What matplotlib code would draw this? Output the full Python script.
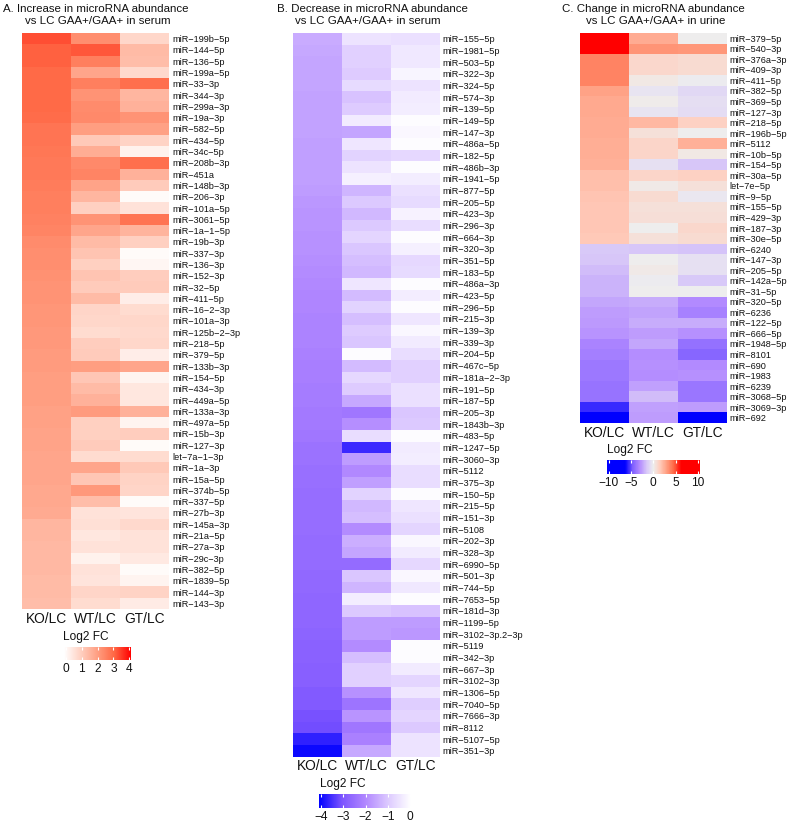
import numpy as np
import matplotlib
matplotlib.use("Agg")
import matplotlib.pyplot as plt
from matplotlib.colors import LinearSegmentedColormap, Normalize

plt.rcParams['font.family'] = ['Liberation Sans', 'DejaVu Sans']

W, H = 790, 823
cols = ["KO/LC", "WT/LC", "GT/LC"]

# Panel A
labels_a = ["miR−199b−5p", "miR−144−5p", "miR−136−5p", "miR−199a−5p", "miR−33−3p", "miR−344−3p",
            "miR−299a−3p", "miR−19a−3p", "miR−582−5p", "miR−434−5p", "miR−34c−5p", "miR−208b−3p",
            "miR−451a", "miR−148b−3p", "miR−206−3p", "miR−101a−5p", "miR−3061−5p", "miR−1a−1−5p",
            "miR−19b−3p", "miR−337−3p", "miR−136−3p", "miR−152−3p", "miR−32−5p", "miR−411−5p",
            "miR−16−2−3p", "miR−101a−3p", "miR−125b−2−3p", "miR−218−5p", "miR−379−5p", "miR−133b−3p",
            "miR−154−5p", "miR−434−3p", "miR−449a−5p", "miR−133a−3p", "miR−497a−5p", "miR−15b−3p",
            "miR−127−3p", "let−7a−1−3p", "miR−1a−3p", "miR−15a−5p", "miR−374b−5p", "miR−337−5p",
            "miR−27b−3p", "miR−145a−3p", "miR−21a−5p", "miR−27a−3p", "miR−29c−3p", "miR−382−5p",
            "miR−1839−5p", "miR−144−3p", "miR−143−3p"]
ko_a = [3.3, 3.1, 3.1, 3.0, 3.0, 3.0, 3.0, 2.95, 2.8, 2.8, 2.75, 2.7, 2.7, 2.65, 2.6, 2.6, 2.55, 2.5,
        2.35, 2.3, 2.3, 2.25, 2.2, 2.2, 2.15, 2.15, 2.1, 2.1, 2.05, 2.05, 2.0, 2.0, 2.0, 1.95, 1.95,
        1.9, 1.9, 1.85, 1.85, 1.85, 1.8, 1.8, 1.75, 1.5, 1.5, 1.45, 1.45, 1.45, 1.4, 1.4, 1.35]
wt_a = [2.3, 3.2, 2.6, 1.85, 2.6, 2.2, 2.35, 2.4, 2.0, 1.1, 1.7, 2.4, 2.5, 1.9, 1.5, 0.95, 2.2, 1.85,
        1.4, 1.2, 0.95, 1.2, 1.05, 1.4, 0.85, 0.8, 0.7, 1.0, 1.05, 2.0, 1.15, 1.4, 1.6, 2.05, 0.95,
        0.95, 1.05, 0.7, 1.85, 1.15, 2.1, 1.35, 0.55, 0.6, 0.45, 0.55, 0.2, 0.55, 0.5, 0.85, 0.7]
gt_a = [0.8, 1.4, 1.35, 0.75, 2.9, 1.5, 1.6, 2.2, 1.95, 0.9, 0.2, 2.9, 1.6, 1.05, 0, 0.55, 2.8, 1.55,
        0.95, 0, 0.1, 1.0, 1.05, 0.3, 0.7, 0.8, 0.75, 0.8, 0.3, 1.85, 0.15, 0.45, 0.45, 1.6, 0.15,
        1.0, 0, 0.7, 1.1, 0.9, 0.85, 0, 0.5, 0.75, 0.55, 0.55, 0.4, 0, 0.15, 0.9, 0.35]

# Panel B
labels_b = ["miR−155−5p", "miR−1981−5p", "miR−503−5p", "miR−322−3p", "miR−324−5p", "miR−574−3p",
            "miR−139−5p", "miR−149−5p", "miR−147−3p", "miR−486a−5p", "miR−182−5p", "miR−486b−3p",
            "miR−1941−5p", "miR−877−5p", "miR−205−5p", "miR−423−3p", "miR−296−3p", "miR−664−3p",
            "miR−320−3p", "miR−351−5p", "miR−183−5p", "miR−486a−3p", "miR−423−5p", "miR−296−5p",
            "miR−215−3p", "miR−139−3p", "miR−339−3p", "miR−204−5p", "miR−467c−5p", "miR−181a−2−3p",
            "miR−191−5p", "miR−187−5p", "miR−205−3p", "miR−1843b−3p", "miR−483−5p", "miR−1247−5p",
            "miR−3060−3p", "miR−5112", "miR−375−3p", "miR−150−5p", "miR−215−5p", "miR−151−3p",
            "miR−5108", "miR−202−3p", "miR−328−3p", "miR−6990−5p", "miR−501−3p", "miR−744−5p",
            "miR−7653−5p", "miR−181d−3p", "miR−1199−5p", "miR−3102−3p.2−3p", "miR−5119", "miR−342−3p",
            "miR−667−3p", "miR−3102−3p", "miR−1306−5p", "miR−7040−5p", "miR−7666−3p", "miR−8112",
            "miR−5107−5p", "miR−351−3p"]
ko_b = [-1.45, -1.5, -1.55, -1.55, -1.55, -1.6, -1.6, -1.6, -1.6, -1.65, -1.65, -1.65, -1.65, -1.7,
        -1.75, -1.8, -1.8, -1.85, -1.85, -1.9, -1.95, -2.0, -2.05, -2.05, -2.1, -2.1, -2.1, -2.15,
        -2.2, -2.2, -2.25, -2.25, -2.3, -2.3, -2.35, -2.45, -2.45, -2.5, -2.5, -2.55, -2.55, -2.55,
        -2.55, -2.6, -2.6, -2.6, -2.65, -2.65, -2.7, -2.7, -2.7, -2.75, -2.8, -2.8, -2.85, -2.85,
        -2.95, -2.95, -3.1, -3.15, -3.7, -4.0]
wt_b = [-0.5, -0.85, -0.85, -0.95, -0.65, -1.1, -0.95, -0.35, -1.55, -0.45, -0.8, -0.5, -0.25, -1.3,
        -1.0, -1.25, -1.0, -0.75, -1.05, -1.15, -1.25, -0.45, -1.2, -0.8, -1.15, -0.95, -1.05, 0,
        -1.2, -0.7, -0.95, -1.5, -2.35, -1.9, -0.6, -3.6, -1.7, -2.0, -1.65, -0.8, -1.25, -1.15,
        -1.95, -1.4, -1.55, -2.6, -1.05, -1.3, -0.3, -1.0, -1.7, -1.7, -1.95, -1.15, -0.85, -0.85,
        -1.85, -2.4, -1.8, -2.35, -2.15, -1.5]
gt_b = [-0.55, -0.4, -0.4, -0.15, -0.5, -0.35, -0.3, 0, -0.1, 0, -0.7, 0, -0.3, -0.55, -0.65, -0.2,
        -0.6, 0, -0.25, -0.7, -0.65, 0, -0.3, 0, -0.45, -0.1, -0.35, -0.6, -0.85, -0.85, -0.55, -0.55,
        -1.05, -1.0, 0, -0.35, -0.3, -0.6, -0.6, 0, -0.45, -0.55, -0.75, -0.1, -0.35, -0.7, -0.1, -0.4,
        0, -1.1, -1.7, -1.75, 0, 0, -0.35, -0.75, -0.45, -0.9, -0.75, -1.0, -0.5, -0.5]

# Panel C
labels_c = ["miR−379−5p", "miR−540−3p", "miR−376a−3p", "miR−409−3p", "miR−411−5p", "miR−382−5p",
            "miR−369−5p", "miR−127−3p", "miR−218−5p", "miR−196b−5p", "miR−5112", "miR−10b−5p",
            "miR−154−5p", "miR−30a−5p", "let−7e−5p", "miR−9−5p", "miR−155−5p", "miR−429−3p",
            "miR−187−3p", "miR−30e−5p", "miR−6240", "miR−147−3p", "miR−205−5p", "miR−142a−5p",
            "miR−31−5p", "miR−320−5p", "miR−6236", "miR−122−5p", "miR−666−5p", "miR−1948−5p",
            "miR−8101", "miR−690", "miR−1983", "miR−6239", "miR−3068−5p", "miR−3069−3p", "miR−692"]
ko_c = [6.5, 6.5, 3.8, 3.8, 3.8, 2.9, 2.7, 2.7, 2.6, 2.6, 2.5, 2.5, 2.4, 1.9, 1.9, 1.8, 1.7, 1.7, 1.7,
        1.6, -1.4, -1.5, -1.8, -2.0, -2.0, -2.3, -2.6, -2.7, -2.8, -3.3, -3.5, -3.7, -3.7, -3.9, -3.9,
        -5.5, -6.5]
wt_c = [2.6, 3.3, 1.0, 1.0, 0.3, -0.4, 0.15, -0.35, 2.2, 0.6, 1.1, 1.1, -0.5, 1.1, 0.2, 0.9, 0.6, 0.7,
        0, 0.6, -1.5, 0, 0.2, -0.1, 0, -2.2, -2.4, -2.2, -2.6, -2.3, -3.0, -2.9, -3.0, -2.5, -1.8, -2.5,
        -2.6]
gt_c = [0, 3.2, 0.9, 0.9, -0.15, -0.9, -0.6, -0.7, 1.3, 0, 2.4, 0.3, -1.5, 1.3, 0.6, -0.3, 0.6, 0.7,
        1.0, 0.9, -1.6, -0.5, -0.5, -1.4, -0.05, -3.1, -3.4, -2.2, -2.9, -4.0, -4.4, -3.1, -2.9, -3.8,
        -3.8, -2.6, -6.5]

reds = LinearSegmentedColormap.from_list("reds", ["#FFFFFF", "#FFD0C1", "#FF9E81", "#FF6744", "#FF0000"])
blues = LinearSegmentedColormap.from_list("blues", ["#0000FF", "#7D55FF", "#B086FF", "#DCC9FF", "#FFFFFF"])
# saturated beyond about +/-6.3
pos = [0, 0.2, 0.28, 0.355, 0.43, 0.5, 0.57, 0.645, 0.72, 0.8, 1]
both = LinearSegmentedColormap.from_list(
    "both", list(zip(pos, ["#0000FF", "#0000FF", "#8060FF", "#B38BFF", "#D8C8F8", "#EEEEEE",
                           "#FFCDBD", "#FF9E81", "#FF6744", "#FF0000", "#FF0000"])))


def axes_px(x0, y0, x1, y1):
    return fig.add_axes([x0 / W, 1 - y1 / H, (x1 - x0) / W, (y1 - y0) / H])


def heat(x0, y0, x1, y1, labels, ko, wt, gt, cmap, norm):
    ax = axes_px(x0, y0, x1, y1)
    data = np.array([ko, wt, gt]).T
    m = ax.pcolormesh(data, cmap=cmap, norm=norm)
    ax.invert_yaxis()
    ax.yaxis.tick_right()
    ax.set_yticks(np.arange(len(labels)) + 0.5, labels, fontsize=6.6, color="#111111")
    ax.set_xticks([0.5, 1.5, 2.5], cols, fontsize=9.9, color="#111111")
    ax.tick_params(length=0)
    ax.tick_params(axis="y", pad=2.2)
    ax.tick_params(axis="x", pad=2)
    for s in ax.spines.values():
        s.set_visible(False)
    return m


def cbar(m, x0, y0, x1, y1, ticks, ticklabels, title_x):
    cax = axes_px(x0, y0, x1, y1)
    cb = fig.colorbar(m, cax=cax, orientation="horizontal")
    cb.set_ticks(ticks, labels=ticklabels)
    cb.outline.set_visible(False)
    cax.tick_params(axis="x", which="major", direction="in", color="white", length=2, width=0.8,
                    labelsize=8.6, pad=2, top=True, bottom=True, labelcolor="#111111")
    cax.minorticks_off()
    fig.text(title_x / W, 1 - (y0 - 4) / H, "Log2 FC", fontsize=8.6, va="bottom", ha="left", color="#111111")


fig = plt.figure(figsize=(7.9, 8.23), dpi=100)

m1 = heat(22.3, 33, 169, 609, labels_a, ko_a, wt_a, gt_a, reds, Normalize(-0.1, 4.1))
m2 = heat(292.7, 33, 439.7, 756.7, labels_b, ko_b, wt_b, gt_b, blues, Normalize(-4.1, 0.05))
m3 = heat(580, 33, 726.5, 423, labels_c, ko_c, wt_c, gt_c, both, Normalize(-10.5, 10.5))

cbar(m1, 64, 647, 131, 660, [0, 1, 2, 3, 4], ["0", "1", "2", "3", "4"], 62.5)
cbar(m2, 319, 794, 411, 808, [-4, -3, -2, -1, 0], ["−4", "−3", "−2", "−1", "0"], 319.5)
cbar(m3, 606.5, 460, 700, 474, [-10, -5, 0, 5, 10], ["−10", "−5", "0", "5", "10"], 607)

titles = [(3, "A. Increase in microRNA abundance", 25, "vs LC GAA+/GAA+ in serum"),
          (277, "B. Decrease in microRNA abundance", 295, "vs LC GAA+/GAA+ in serum"),
          (562, "C. Change in microRNA abundance", 586, "vs LC GAA+/GAA+ in urine")]
for x1, t1, x2, t2 in titles:
    fig.text(x1 / W, 1 - 12 / H, t1, fontsize=8.25, va="baseline", color="#111111")
    fig.text(x2 / W, 1 - 24.5 / H, t2, fontsize=8.25, va="baseline", color="#111111")

plt.savefig("out.png", dpi=100)
